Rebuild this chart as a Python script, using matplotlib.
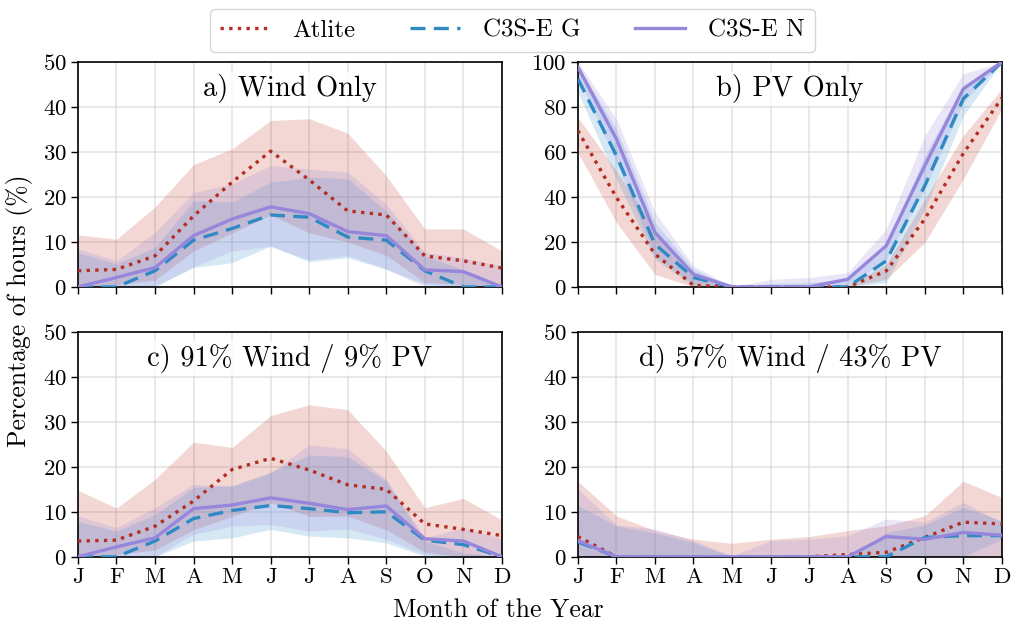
import matplotlib
matplotlib.use("Agg")
import matplotlib.pyplot as plt
import numpy as np

plt.rcParams['font.family'] = ['cmr10', 'DejaVu Serif']
plt.rcParams['mathtext.fontset'] = 'cm'
plt.rcParams['axes.formatter.use_mathtext'] = True

months = ["J", "F", "M", "A", "M", "J", "J", "A", "S", "O", "N", "D"]
series_names = ["Atlite", "C3S-E G", "C3S-E N"]
titles = ["a) Wind Only", "b) PV Only", "c) 91% Wind / 9% PV", "d) 57% Wind / 43% PV"]
ylims = [50, 100, 50, 50]

# panel a) Wind Only
a_atlite = [3.6, 3.9, 6.9, 15.8, 23.3, 30.2, 23.8, 16.9, 16.0, 6.9, 5.8, 4.2]
a_atlite_lo = [0.0, 0.5, 1.5, 8.0, 12.0, 16.0, 12.0, 10.0, 7.0, 1.0, 0.5, 0.0]
a_atlite_hi = [11.6, 10.6, 17.8, 27.2, 30.7, 37.0, 37.4, 34.2, 24.7, 12.9, 12.9, 8.0]
a_g = [0.0, 0.0, 3.6, 10.4, 13.0, 16.0, 15.5, 11.1, 10.4, 3.6, 0.0, 0.0]
a_g_lo = [0.0, 0.0, 0.2, 4.3, 5.4, 9.1, 5.6, 6.5, 3.9, 0.6, 0.0, 0.0]
a_g_hi = [7.7, 5.1, 8.8, 19.2, 18.9, 23.3, 24.4, 24.1, 16.9, 6.9, 3.9, 0.2]
a_n = [0.0, 2.1, 4.3, 11.4, 15.1, 17.8, 16.3, 12.3, 11.4, 3.8, 3.4, 0.0]
a_n_lo = [0.0, 0.0, 0.0, 4.5, 8.0, 9.0, 6.0, 7.0, 4.0, 0.0, 0.0, 0.0]
a_n_hi = [8.5, 5.8, 12.1, 21.0, 22.9, 27.0, 26.2, 25.5, 18.4, 7.7, 6.5, 4.7]

# panel b) PV Only
b_atlite = [69.5, 39.8, 14.6, 0.7, 0.0, 0.0, 0.0, 0.0, 7.1, 30.2, 59.4, 84.0]
b_atlite_lo = [59.9, 28.7, 5.6, 0.0, 0.0, 0.0, 0.0, 0.0, 3.4, 19.8, 48.0, 79.2]
b_atlite_hi = [75.5, 51.7, 25.7, 4.9, 0.0, 0.0, 0.5, 0.4, 10.1, 39.0, 67.3, 88.1]
b_g = [92.6, 58.4, 19.0, 4.2, 0.0, 0.0, 0.0, 0.0, 11.6, 45.0, 83.7, 100.0]
b_g_lo = [86.6, 48.0, 12.3, 0.4, 0.0, 0.0, 0.0, 0.0, 1.9, 34.6, 76.2, 100.0]
b_g_hi = [98.5, 70.3, 28.7, 7.9, 0.0, 1.5, 2.0, 3.4, 17.5, 58.4, 89.6, 100.0]
b_n = [97.8, 65.8, 24.2, 5.6, 0.0, 0.0, 0.0, 3.4, 18.3, 53.9, 88.1, 100.0]
b_n_lo = [94.0, 55.4, 13.8, 1.2, 0.0, 0.0, 0.0, 0.4, 12.3, 43.5, 82.2, 100.0]
b_n_hi = [100.0, 74.7, 33.1, 9.4, 0.0, 3.4, 4.2, 6.4, 25.7, 67.3, 94.8, 100.0]

# panel c) 91% Wind / 9% PV
c_atlite = [3.5, 3.7, 6.8, 12.4, 19.4, 21.9, 19.3, 16.0, 15.0, 7.3, 6.1, 4.7]
c_atlite_lo = [0.0, 0.5, 1.5, 6.0, 9.0, 12.0, 9.0, 9.0, 6.0, 1.0, 0.0, 0.0]
c_atlite_hi = [14.8, 10.8, 17.2, 25.5, 24.3, 31.4, 33.8, 32.7, 23.5, 10.9, 13.0, 8.2]
c_g = [0.0, 0.0, 3.5, 8.5, 10.3, 11.4, 10.7, 9.8, 10.0, 3.7, 2.7, 0.0]
c_g_lo = [0.0, 0.0, 0.0, 3.5, 4.2, 6.1, 4.6, 4.2, 3.1, 0.1, 0.0, 0.0]
c_g_hi = [7.9, 5.7, 9.4, 15.4, 15.8, 18.8, 22.6, 22.3, 16.8, 3.5, 0.9, 0.0]
c_n = [0.0, 2.2, 4.2, 10.7, 11.5, 13.1, 11.9, 10.5, 11.3, 4.0, 3.5, 0.0]
c_n_lo = [0.0, 0.0, 0.0, 5.0, 6.8, 7.2, 5.7, 6.2, 3.9, 0.5, 0.0, 0.0]
c_n_hi = [9.1, 6.5, 10.9, 16.1, 15.7, 18.7, 24.9, 24.0, 17.2, 4.2, 6.5, 3.9]

# panel d) 57% Wind / 43% PV
d_atlite = [4.5, 0.0, 0.0, 0.0, 0.0, 0.0, 0.0, 0.5, 1.0, 4.3, 7.7, 7.3]
d_atlite_lo = [0.0, 0.0, 0.0, 0.0, 0.0, 0.0, 0.0, 0.0, 0.0, 0.0, 0.0, 0.0]
d_atlite_hi = [16.8, 9.1, 5.8, 3.9, 3.0, 3.9, 4.5, 5.8, 6.9, 9.1, 16.8, 13.2]
d_g = [3.3, 0.0, 0.0, 0.0, 0.0, 0.0, 0.0, 0.0, 0.0, 4.3, 4.7, 4.7]
d_g_lo = [0.0, 0.0, 0.0, 0.0, 0.0, 0.0, 0.0, 0.0, 0.0, 0.0, 0.0, 3.9]
d_g_hi = [11.4, 6.9, 5.3, 3.2, 0.0, 0.0, 0.0, 0.0, 5.4, 7.1, 11.0, 8.0]
d_n = [3.6, 0.0, 0.0, 0.0, 0.0, 0.0, 0.0, 0.0, 4.5, 3.9, 5.4, 4.8]
d_n_lo = [0.0, 0.0, 0.0, 0.0, 0.0, 0.0, 0.0, 0.0, 0.0, 0.0, 0.0, 0.0]
d_n_hi = [15.1, 7.1, 6.2, 3.6, 0.2, 3.6, 3.9, 4.7, 8.4, 7.7, 12.1, 7.7]

panels = [
    [(a_atlite, a_atlite_lo, a_atlite_hi), (a_g, a_g_lo, a_g_hi), (a_n, a_n_lo, a_n_hi)],
    [(b_atlite, b_atlite_lo, b_atlite_hi), (b_g, b_g_lo, b_g_hi), (b_n, b_n_lo, b_n_hi)],
    [(c_atlite, c_atlite_lo, c_atlite_hi), (c_g, c_g_lo, c_g_hi), (c_n, c_n_lo, c_n_hi)],
    [(d_atlite, d_atlite_lo, d_atlite_hi), (d_g, d_g_lo, d_g_hi), (d_n, d_n_lo, d_n_hi)],
]

colors = ["#b22d22", "#2f8ac4", "#9686dc"]
styles = [(0, (1, 1.6)), (0, (4.5, 2.5)), "-"]
band_alpha = [0.2, 0.2, 0.2]
band_colors = ["#c0392b", "#3b8fd0", "#9686dc"]

fig, axes = plt.subplots(2, 2, figsize=(10.12, 6.27), dpi=100)
fig.subplots_adjust(left=0.077, right=0.990, top=0.901, bottom=0.112,
                    hspace=0.2, wspace=0.179)

x = np.arange(len(months))
handles = []
for i, ax in enumerate(axes.flat):
    for j, (mean, lo, hi) in enumerate(panels[i]):
        ax.fill_between(x, lo, hi, color=band_colors[j], alpha=band_alpha[j], lw=0)
    for j, (mean, lo, hi) in enumerate(panels[i]):
        h, = ax.plot(x, mean, color=colors[j], linestyle=styles[j], lw=2.4,
                     label=series_names[j], zorder=3)
        if i == 0:
            handles.append(h)
    ax.set_xlim(0, 11)
    ax.set_ylim(0, ylims[i])
    ax.set_xticks(x)
    if i >= 2:
        ax.set_xticklabels(months)
    else:
        ax.set_xticklabels([])
    ax.set_yticks(np.linspace(0, ylims[i], 6))
    ax.grid(True, color="#d8d8d8", lw=1.2, alpha=0.7)
    ax.set_axisbelow(True)
    ax.tick_params(labelsize=16.5, length=5, width=1.0, direction="out", pad=3)
    for s in ax.spines.values():
        s.set_linewidth(1.2)
    ax.text(0.5, 0.945, titles[i], transform=ax.transAxes, ha="center", va="top",
            fontsize=20.5, bbox=dict(facecolor="white", edgecolor="none", alpha=0.8, pad=2),
            zorder=6)

fig.legend(handles=handles, labels=series_names, loc="upper center", ncol=3,
           bbox_to_anchor=(0.506, 1.005), fontsize=18, frameon=True, fancybox=True,
           handlelength=2.0, handletextpad=0.9, columnspacing=2.2, borderpad=0.4,
           edgecolor="#cccccc")
fig.text(0.492, 0.027, "Month of the Year", ha="center", va="center", fontsize=18.5)
fig.text(0.019, 0.505, "Percentage of hours (%)", ha="center", va="center",
         rotation=90, fontsize=18.5)

fig.savefig("out.png", dpi=100)
